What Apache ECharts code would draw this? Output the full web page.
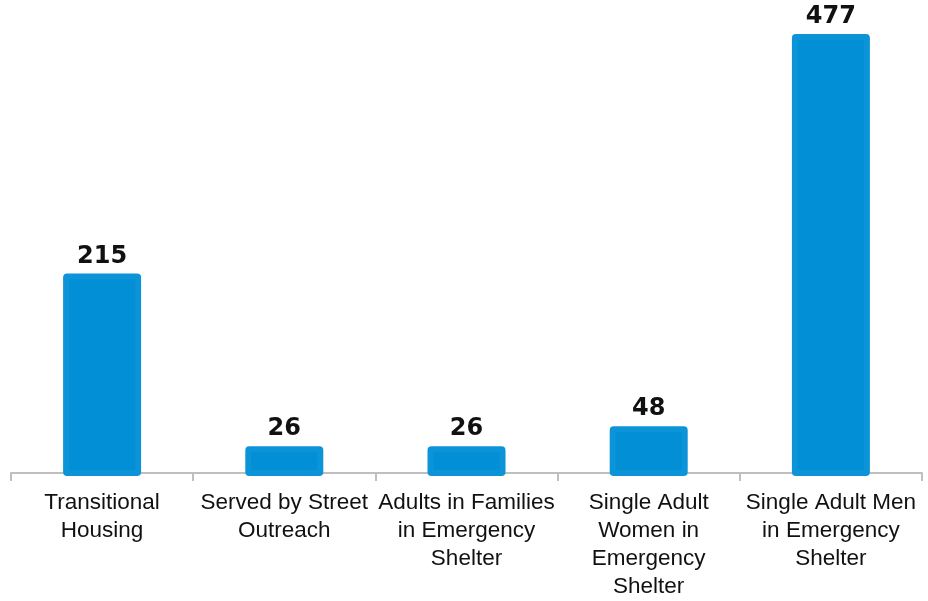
<!DOCTYPE html>
<html>
<head>
<meta charset="utf-8">
<script src="https://cdn.jsdelivr.net/npm/echarts@6/dist/echarts.min.js"></script>
<style>
  html, body { margin: 0; padding: 0; background: #ffffff; overflow: hidden; }
  #chart { width: 928px; height: 601px; }
</style>
</head>
<body>
<div id="chart"></div>
<script>
// Categories (line breaks as shown under each bar)
const categories = [
  'Transitional\nHousing',
  'Served by Street\nOutreach',
  'Adults in Families\nin Emergency\nShelter',
  'Single Adult\nWomen in\nEmergency\nShelter',
  'Single Adult Men\nin Emergency\nShelter'
];
// Number of people in each group
const counts = [215, 26, 26, 48, 477];

const barBlue = '#028fd6';
const barEdge = '#0b94d8';
const axisGrey = '#bfbfbf';
const BAR_W = 72;      // inner bar width, the 6px outline adds 3px on each side
const EDGE = 6;

// Each bar is a rectangle from 0 up to its value, stroked with a thick outline,
// with its value printed just above it.
function renderBar(params, api) {
  const cat = api.value(0);
  const val = api.value(1);
  const top = api.coord([cat, val]);
  const base = api.coord([cat, 0]);
  const outerTop = top[1] - EDGE / 2;
  return {
    type: 'group',
    children: [
      {
        type: 'rect',
        shape: { x: top[0] - BAR_W / 2, y: top[1], width: BAR_W, height: base[1] - top[1], r: 1 },
        style: { fill: barBlue, stroke: barEdge, lineWidth: EDGE, lineJoin: 'round' }
      },
      {
        type: 'text',
        style: {
          text: String(val),
          x: top[0],
          y: outerTop - 17,
          align: 'center',
          verticalAlign: 'middle',
          fill: '#111111',
          font: 'bold 24px "DejaVu Sans"'
        }
      }
    ]
  };
}

const chart = echarts.init(document.getElementById('chart'), null, { renderer: 'canvas' });
chart.setOption({
  animation: false,
  backgroundColor: '#ffffff',
  grid: { left: 11, right: 6, top: 16, bottom: 124, containLabel: false },
  xAxis: {
    type: 'category',
    data: categories,
    axisLine: { show: true, lineStyle: { color: axisGrey, width: 2 } },
    axisTick: { show: true, length: 8, lineStyle: { color: axisGrey, width: 2 } },
    axisLabel: {
      interval: 0,
      margin: 16,
      color: '#111111',
      fontFamily: 'Liberation Sans',
      fontSize: 22.5,
      lineHeight: 28
    }
  },
  yAxis: {
    type: 'value',
    min: 0,
    max: 500,
    show: false,
    splitLine: { show: false }
  },
  series: [{
    type: 'custom',
    renderItem: renderBar,
    encode: { x: 0, y: 1 },
    data: counts.map((v, i) => [i, v]),
    z: 3
  }]
});
</script>
</body>
</html>
